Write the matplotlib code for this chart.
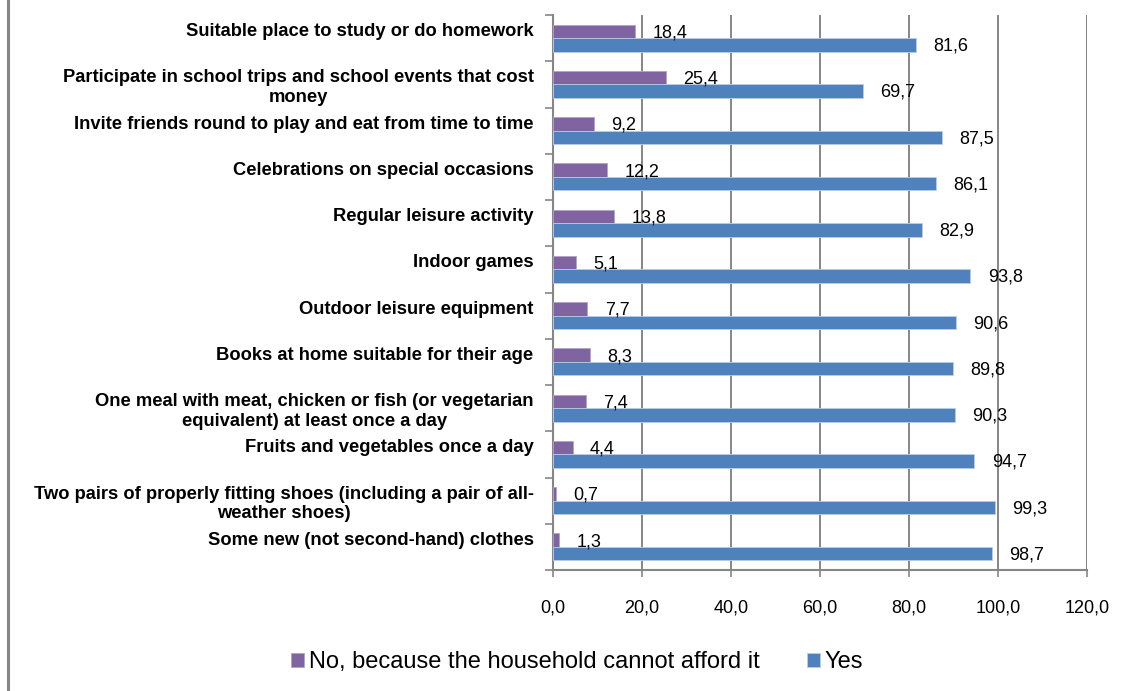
import numpy as np
import matplotlib.pyplot as plt
from matplotlib.lines import Line2D

plt.rcParams['font.family'] = ['Liberation Sans', 'DejaVu Sans']

# data (top to bottom as in the chart)
categories = [
    'Suitable place to study or do homework',
    'Participate in school trips and school events that cost\nmoney',
    'Invite friends round to play and eat from time to time',
    'Celebrations on special occasions',
    'Regular leisure activity',
    'Indoor games',
    'Outdoor leisure equipment',
    'Books at home suitable for their age',
    'One meal with meat, chicken or fish (or vegetarian\nequivalent) at least once a day',
    'Fruits and vegetables once a day',
    'Two pairs of properly fitting shoes (including a pair of all-\nweather shoes)',
    'Some new (not second-hand) clothes',
]
no_values = [18.4, 25.4, 9.2, 12.2, 13.8, 5.1, 7.7, 8.3, 7.4, 4.4, 0.7, 1.3]
yes_values = [81.6, 69.7, 87.5, 86.1, 82.9, 93.8, 90.6, 89.8, 90.3, 94.7, 99.3, 98.7]
series_names = ['No, because the household cannot afford it', 'Yes']
x_ticks = [0, 20, 40, 60, 80, 100, 120]

c_no = '#8064A2'
c_yes = '#4F81BD'
c_axis = '#868686'

W, H = 1137, 691
fig = plt.figure(figsize=(W / 100, H / 100), dpi=100)
ax = fig.add_axes([553 / W, 1 - 570 / H, (1087 - 553) / W, (570 - 15) / H])

n = len(categories)
y = np.arange(n)
h = 0.29
b1 = ax.barh(y - h / 2, no_values, height=h, color=c_no, edgecolor='#B3A2C7', linewidth=0.6,
             label=series_names[0], zorder=3)
b2 = ax.barh(y + h / 2, yes_values, height=h, color=c_yes, edgecolor='#B9CDE5', linewidth=0.6,
             label=series_names[1], zorder=3)

# value labels
for bars in (b1, b2):
    for r in bars:
        v = r.get_width()
        ax.annotate(f'{v:.1f}'.replace('.', ','), (v, r.get_y() + r.get_height() / 2),
                    xytext=(12.5, -1), textcoords='offset points', va='center', ha='left',
                    fontsize=13, color='black', zorder=4)

ax.set_ylim(n - 0.5, -0.5)
ax.set_xlim(0, 120)
ax.set_xticks(x_ticks)
ax.set_xticklabels([f'{t:.1f}'.replace('.', ',') for t in x_ticks], fontsize=13)
ax.tick_params(axis='x', length=5, width=1.2, color=c_axis, pad=16)

# single-line labels sit at the top line of a two-line block (as in Excel)
ylabels = [c if '\n' in c else c + '\n' for c in categories]
ax.set_yticks(y)
ax.set_yticklabels(ylabels, fontsize=13.2, fontweight='bold', ha='right', multialignment='center',
                   linespacing=1.2)
ax.tick_params(axis='y', length=0, pad=14)
ax.set_yticks(np.arange(-0.5, n, 1), minor=True)
ax.tick_params(axis='y', which='minor', length=6, width=1.2, color=c_axis)

ax.grid(axis='x', color=c_axis, linewidth=1.4, zorder=0)
ax.set_axisbelow(True)
for s in ['top', 'right']:
    ax.spines[s].set_visible(False)
for s in ['left', 'bottom']:
    ax.spines[s].set_color(c_axis)
    ax.spines[s].set_linewidth(1.5)

fig.legend(handles=[b1, b2], labels=series_names, loc='center', bbox_to_anchor=(577 / W, 1 - 662 / H),
           ncol=2, frameon=False, fontsize=17, handlelength=0.55, handleheight=0.55, handletextpad=0.2,
           columnspacing=2.0, borderpad=0)

fig.add_artist(Line2D([8 / W, 8 / W], [0, 1], color=c_axis, linewidth=2.2, transform=fig.transFigure))

fig.savefig('out.png', dpi=100)
